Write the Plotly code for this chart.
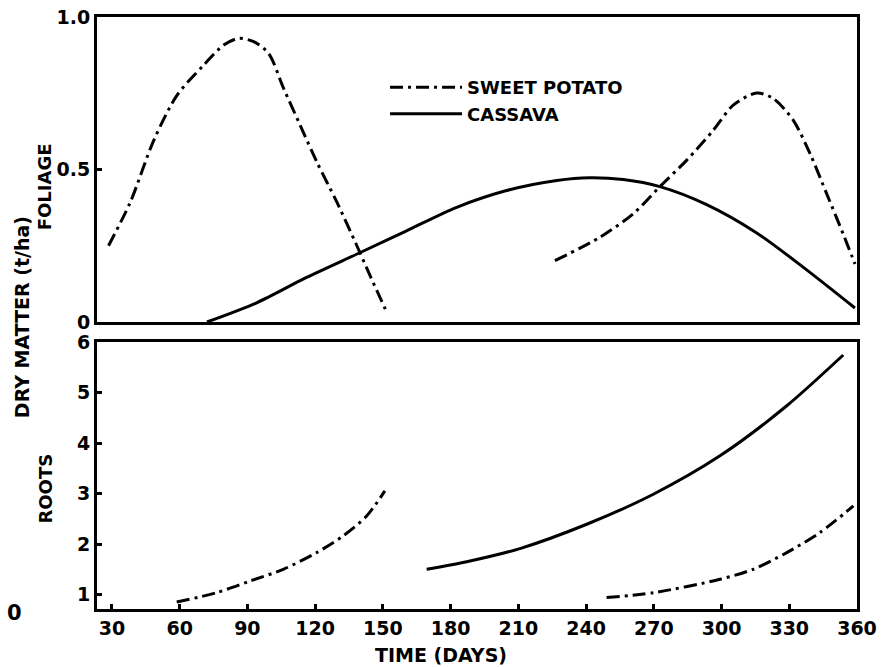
import plotly.graph_objects as go

# ---------------- data ----------------
# Foliage dry matter (t/ha)
sp_fol1_days = [28.5, 38.1, 48.5, 58.8, 70.6, 79.5, 86.1, 92.8, 99.4, 106.1, 113.4, 120.8, 129.7, 138.5, 144.4, 151.1]
sp_fol1_vals = [0.25, 0.392, 0.595, 0.743, 0.842, 0.908, 0.930, 0.919, 0.881, 0.765, 0.645, 0.524, 0.392, 0.25, 0.151, 0.042]

sp_fol2_days = [226.2, 246.2, 260.9, 272.7, 284.5, 296.3, 305.2, 315.6, 322.9, 331.8, 339.2, 346.6, 353.9, 359.1]
sp_fol2_vals = [0.201, 0.278, 0.355, 0.444, 0.530, 0.628, 0.711, 0.751, 0.733, 0.661, 0.552, 0.42, 0.288, 0.19]

cas_fol_days = [72.1, 94.1, 116.2, 139.8, 160.5, 182.7, 204.8, 227.0, 241.7, 256.5, 272.7, 293.4, 315.6, 337.7, 359.1]
cas_fol_vals = [0.0, 0.063, 0.146, 0.227, 0.299, 0.376, 0.431, 0.464, 0.473, 0.467, 0.444, 0.385, 0.292, 0.171, 0.046]

# Root dry matter (t/ha)
sp_root1_days = [58.7, 76.4, 91.1, 105.9, 120.7, 132.4, 142.8, 150.9]
sp_root1_vals = [0.857, 1.043, 1.273, 1.505, 1.836, 2.164, 2.558, 3.055]

sp_root2_days = [249.1, 269.8, 299.3, 314.0, 328.9, 343.6, 358.4]
sp_root2_vals = [0.945, 1.043, 1.307, 1.505, 1.836, 2.232, 2.758]

cas_root_days = [169.4, 188.6, 210.7, 240.3, 269.8, 299.3, 328.9, 353.9]
cas_root_vals = [1.505, 1.669, 1.915, 2.396, 2.99, 3.749, 4.739, 5.743]

x_ticks = [30, 60, 90, 120, 150, 180, 210, 240, 270, 300, 330, 360]
fol_ticks = [0, 0.5, 1.0]
fol_tick_text = ["0", "0.5", "1.0"]
root_break = 0.72  # broken axis: the bottom of the roots axis stands for 0
root_ticks = [1, 2, 3, 4, 5, 6]
root_tick_text = ["1", "2", "3", "4", "5", "6"]

# ---------------- figure ----------------
FONT = "DejaVu Sans, Liberation Sans, sans-serif"
SP_DASH = "13px,5px,3px,5px"
LW = 3

fig = go.Figure()

def add(x, y, name, dash, xa, ya, show):
    fig.add_trace(go.Scatter(
        x=x, y=y, mode="lines", name=name, legendgroup=name, showlegend=show,
        line=dict(color="black", width=LW, dash=dash, shape="spline", smoothing=0.8),
        xaxis=xa, yaxis=ya, hoverinfo="x+y+name"))

add(sp_fol1_days, sp_fol1_vals, "SWEET POTATO", SP_DASH, "x", "y", True)
add(cas_fol_days, cas_fol_vals, "CASSAVA", "solid", "x", "y", True)
add(sp_fol2_days, sp_fol2_vals, "SWEET POTATO", SP_DASH, "x", "y", False)
add(sp_root1_days, sp_root1_vals, "SWEET POTATO", SP_DASH, "x2", "y2", False)
add(sp_root2_days, sp_root2_vals, "SWEET POTATO", SP_DASH, "x2", "y2", False)
add(cas_root_days, cas_root_vals, "CASSAVA", "solid", "x2", "y2", False)

xrange = [23.4, 360]
common_axis = dict(showline=True, linecolor="black", linewidth=LW, mirror=True,
                   showgrid=False, zeroline=False, ticks="inside", ticklen=5,
                   tickwidth=3, tickcolor="black", automargin=False,
                   tickfont=dict(family=FONT, size=19, color="black", weight="bold"))

fig.update_layout(
    width=881, height=667,
    margin=dict(l=97, r=24, t=17, b=58),
    paper_bgcolor="white", plot_bgcolor="white",
    font=dict(family=FONT, size=19, color="black", weight="bold"),
    showlegend=True,
    legend=dict(x=0.379, y=0.912, xanchor="left", yanchor="top",
                bgcolor="rgba(0,0,0,0)", itemwidth=72, tracegroupgap=0,
                font=dict(family=FONT, size=18, color="black", weight="bold")),
    xaxis=dict(domain=[0, 1], range=xrange, anchor="y", tickvals=x_ticks,
               showticklabels=False, **{**common_axis, "ticks": ""}),
    yaxis=dict(domain=[0.4848, 1], range=[0, 1.0], anchor="x",
               tickvals=fol_ticks, ticktext=fol_tick_text, **common_axis),
    xaxis2=dict(domain=[0, 1], range=xrange, anchor="y2", tickvals=x_ticks,
                **common_axis),
    yaxis2=dict(domain=[0, 0.451], range=[root_break, 6], anchor="x2",
                tickvals=root_ticks, ticktext=root_tick_text, **common_axis),
)

def note(text, x, y, angle=0, size=19):
    fig.add_annotation(text=text, xref="paper", yref="paper", x=x, y=y,
                       xanchor="center", yanchor="middle", showarrow=False, textangle=angle,
                       font=dict(family=FONT, size=size, color="black", weight="bold"))

note("TIME (DAYS)", 0.453, -0.0777)
note("DRY MATTER (t/ha)", -0.0987, 0.493, -90)
note("FOLIAGE", -0.068, 0.713, -90, 18)
note("ROOTS", -0.068, 0.204, -90, 18)
# "0" at the broken bottom of the roots axis
note("0", -0.108, -0.006, 0, 21)

fig.write_html("out.html", config={"displayModeBar": False},
               post_script="document.body.style.margin='0';document.body.style.overflow='hidden';")
